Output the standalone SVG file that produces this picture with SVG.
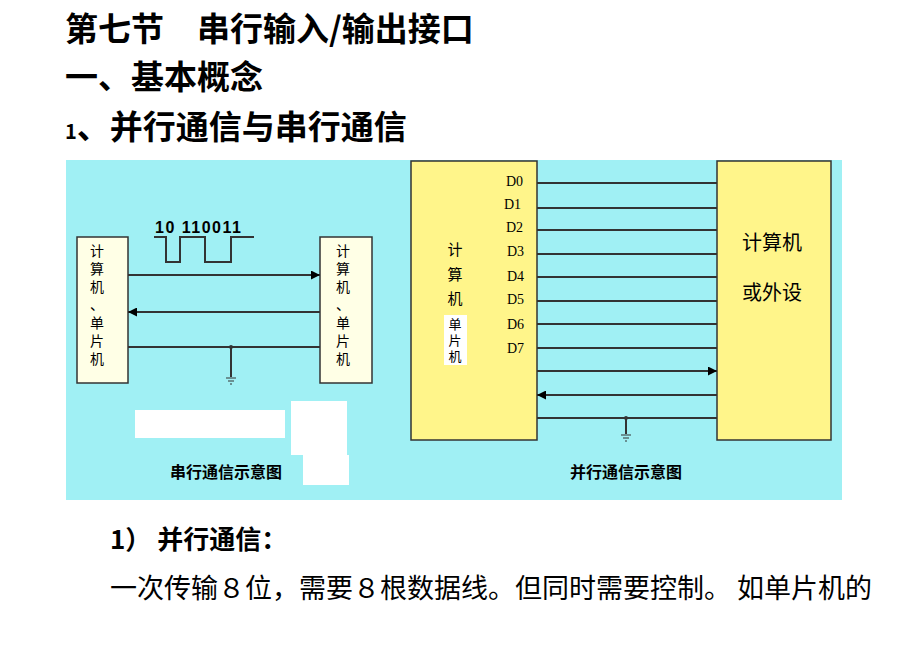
<svg xmlns="http://www.w3.org/2000/svg" width="920" height="649" viewBox="0 0 920 649">
<defs>
<marker id="ah" viewBox="0 0 10 10" refX="10" refY="5" markerWidth="9" markerHeight="9" markerUnits="userSpaceOnUse" orient="auto"><path d="M0,0L10,5L0,10z" fill="#000"/></marker>
<style>
.h{font-family:"Noto Sans CJK SC",sans-serif;font-weight:bold;fill:#000}
.t{font-family:"Noto Sans CJK SC",sans-serif;fill:#000}
.d{font-family:"Liberation Serif",serif;font-size:14px;fill:#000}
.ln{stroke:#333;stroke-width:2;fill:none}
.ybox{fill:#FFF58A;stroke:#333;stroke-width:1.5}
.wbox{fill:#FFFFE6;stroke:#333;stroke-width:1.5}
</style>
</defs>
<rect width="920" height="649" fill="#fff"/>
<text class="h" x="65" y="41" font-size="33">第七节　串行输入/输出接口</text>
<text class="h" x="65" y="89" font-size="33">一、基本概念</text>
<text class="h" x="65" y="139" font-size="33"><tspan font-size="20">1</tspan>、并行通信与串行通信</text>
<rect x="66" y="160" width="776" height="340" fill="#A0F0F4"/>
<g id="left-pc"><rect class="wbox" x="77" y="237" width="51" height="146"/>
<text class="t" font-size="14" x="90" y="256">计</text><text class="t" font-size="14" x="90" y="274">算</text><text class="t" font-size="14" x="90" y="292">机</text><text class="t" font-size="14" x="90" y="310">、</text><text class="t" font-size="14" x="90" y="328">单</text><text class="t" font-size="14" x="90" y="346">片</text><text class="t" font-size="14" x="90" y="364">机</text></g>
<g id="right-pc"><rect class="wbox" x="320" y="237" width="52" height="146"/>
<text class="t" font-size="14" x="336" y="256">计</text><text class="t" font-size="14" x="336" y="274">算</text><text class="t" font-size="14" x="336" y="292">机</text><text class="t" font-size="14" x="336" y="310">、</text><text class="t" font-size="14" x="336" y="328">单</text><text class="t" font-size="14" x="336" y="346">片</text><text class="t" font-size="14" x="336" y="364">机</text></g>
<g id="wave"><text x="155" y="233" font-family="Liberation Sans,sans-serif" font-weight="bold" font-size="16" letter-spacing="1.5">10 110011</text>
<path class="ln" d="M154,237H166V262H180V237H205V262H231V237H254"/></g>
<rect x="135" y="410" width="150" height="28" fill="#fff"/>
<rect x="291" y="401" width="56" height="54" fill="#fff"/>
<rect x="303" y="455" width="46" height="30" fill="#fff"/>
<text class="h" x="226" y="478" font-size="16" text-anchor="middle">串行通信示意图</text>
<g id="par-left"><rect class="ybox" x="411" y="161" width="126" height="279"/>
<text class="t" font-size="15" x="455" y="255" text-anchor="middle">计</text><text class="t" font-size="15" x="455" y="280" text-anchor="middle">算</text><text class="t" font-size="15" x="455" y="304" text-anchor="middle">机</text>
<rect x="444" y="315" width="23" height="50" fill="#fff"/>
<text class="t" font-size="13" x="455" y="329" text-anchor="middle">单</text><text class="t" font-size="13" x="455" y="345" text-anchor="middle">片</text><text class="t" font-size="13" x="455" y="361" text-anchor="middle">机</text>
<text class="d" x="506" y="186">D0</text><text class="d" x="504" y="209">D1</text><text class="d" x="506" y="232">D2</text><text class="d" x="507" y="256">D3</text><text class="d" x="507" y="281">D4</text><text class="d" x="507" y="304">D5</text><text class="d" x="507" y="329">D6</text><text class="d" x="507" y="353">D7</text></g>
<g id="par-right"><rect class="ybox" x="717" y="161" width="114" height="279"/>
<text class="t" font-size="20" x="772" y="250" text-anchor="middle">计算机</text>
<text class="t" font-size="20" x="772" y="300" text-anchor="middle">或外设</text></g>
<g id="connectors">
<path class="ln" d="M128,275H320" marker-end="url(#ah)"/>
<path class="ln" d="M320,312H128" marker-end="url(#ah)"/>
<path class="ln" d="M128,347H320M231,347V377"/>
<circle cx="231" cy="347" r="2" fill="#333"/>
<path stroke="#333" stroke-width="1" d="M226,378H236M228,381H234M230,384H232"/>
<path class="ln" d="M537,183H717M537,208H717M537,230H717M537,254H717M537,277H717M537,301H717M537,324H717M537,348H717M537,418H717M626,418V434"/>
<path class="ln" d="M537,371H717" marker-end="url(#ah)"/>
<path class="ln" d="M717,395H537" marker-end="url(#ah)"/>
<circle cx="626" cy="418" r="2" fill="#333"/>
<path stroke="#333" stroke-width="1" d="M621,435H631M623,438H629M625,441H627"/>
</g>
<text class="h" x="626" y="478" font-size="16" text-anchor="middle">并行通信示意图</text>
<text class="h" x="110" y="549" font-size="26">1）  并行通信：</text>
<text class="t" x="110" y="598" font-size="27">一次传输８位，需要８根数据线。但同时需要控制。 如单片机的</text>
</svg>
